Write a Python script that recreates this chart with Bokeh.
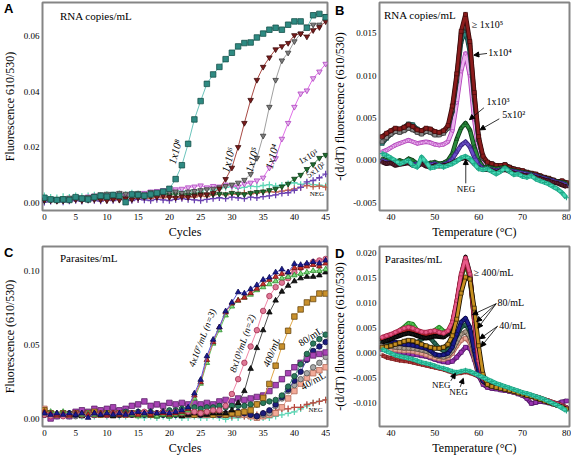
from bokeh.plotting import figure
from bokeh.layouts import column, row
from bokeh.models import (FixedTicker, PrintfTickFormatter, Label, Arrow, NormalHead,
                          ColumnDataSource, LinearAxis)
from bokeh.embed import file_html
from bokeh.resources import INLINE

SERIF = "Liberation Serif"

# ---------------- data ----------------
CYCLES = list(range(46))
TEMPS = list(range(38, 81))
CYCLE_TICKS = [0, 5, 10, 15, 20, 25, 30, 35, 40, 45]
TEMP_TICKS = [40, 50, 60, 70, 80]
A_Y_TICKS = [0.0, 0.02, 0.04, 0.06]
B_Y_TICKS = [-0.005, 0.0, 0.005, 0.01, 0.015]
C_Y_TICKS = [0.0, 0.05, 0.10]
D_Y_TICKS = [-0.01, -0.005, 0.0, 0.005, 0.01, 0.015, 0.02]

# Panel A: RNA copies/mL amplification
A_1E8 = [0.0018,0.0012,0.0010,0.0012,0.0010,0.0020,0.0015,0.0012,0.0020,0.0025,
         0.0022,0.0028,0.0025,0.0002,0.0030,0.0028,0.0025,0.0030,0.0035,0.0040,
         0.0050,0.0085,0.0135,0.0212,0.0300,0.0366,0.0428,0.0462,0.0489,0.0517,
         0.0540,0.0563,0.0575,0.0577,0.0595,0.0609,0.0623,0.0630,0.0623,0.0641,
         0.0653,0.0653,0.0630,0.0675,0.0680,0.0668]
A_1E6 = [0.0010,0.0008,0.0006,0.0008,0.0010,0.0012,0.0008,0.0010,0.0012,0.0010,
         0.0008,0.0012,0.0010,0.0015,0.0012,0.0018,0.0020,0.0022,0.0020,0.0025,
         0.0020,0.0018,0.0022,0.0020,0.0025,0.0028,0.0030,0.0035,0.0050,0.0085,
         0.0126,0.0200,0.0287,0.0370,0.0442,0.0489,0.0523,0.0552,0.0563,0.0575,
         0.0603,0.0609,0.0598,0.0621,0.0632,0.0653]
A_1E5 = [0.0015,0.0012,0.0010,0.0015,0.0018,0.0020,0.0018,0.0020,0.0025,0.0030,
         0.0032,0.0030,0.0035,0.0032,0.0030,0.0035,0.0030,0.0038,0.0035,0.0040,
         0.0038,0.0040,0.0035,0.0040,0.0042,0.0045,0.0048,0.0050,0.0055,0.0060,
         0.0065,0.0072,0.0082,0.0103,0.0161,0.0241,0.0345,0.0442,0.0512,0.0540,
         0.0581,0.0609,0.0634,0.0641,0.0641,0.0672]
A_1E4 = [0.0012,0.0010,0.0008,0.0012,0.0015,0.0012,0.0018,0.0022,0.0025,0.0020,
         0.0028,0.0025,0.0030,0.0028,0.0032,0.0030,0.0035,0.0040,0.0042,0.0045,
         0.0042,0.0048,0.0050,0.0055,0.0058,0.0062,0.0055,0.0060,0.0058,0.0065,
         0.0060,0.0058,0.0068,0.0072,0.0080,0.0090,0.0126,0.0160,0.0230,0.0287,
         0.0345,0.0393,0.0404,0.0448,0.0472,0.0500]
A_1E3 = [0.0008,0.0010,0.0012,0.0008,0.0010,0.0012,0.0015,0.0018,0.0015,0.0020,
         0.0018,0.0022,0.0020,0.0025,0.0022,0.0025,0.0022,0.0028,0.0025,0.0030,
         0.0028,0.0032,0.0030,0.0028,0.0030,0.0032,0.0028,0.0030,0.0032,0.0030,
         0.0035,0.0032,0.0030,0.0035,0.0038,0.0040,0.0045,0.0050,0.0058,0.0068,
         0.0086,0.0100,0.0121,0.0138,0.0161,0.0172]
A_5E2 = [0.0002,0.0005,0.0008,0.0003,0.0006,0.0008,0.0005,0.0010,0.0008,0.0006,
         0.0010,0.0008,0.0012,0.0010,0.0008,0.0012,0.0010,0.0008,0.0012,0.0010,
         0.0008,0.0012,0.0015,0.0012,0.0010,0.0008,0.0012,0.0015,0.0018,0.0015,
         0.0020,0.0018,0.0015,0.0020,0.0018,0.0022,0.0025,0.0028,0.0034,0.0036,
         0.0045,0.0055,0.0075,0.0080,0.0090,0.0103]
A_NEG_RED = [0.0015,0.0012,0.0010,0.0012,0.0010,0.0012,0.0015,0.0012,0.0010,0.0015,
             0.0012,0.0015,0.0012,0.0018,0.0015,0.0012,0.0018,0.0015,0.0020,0.0018,
             0.0020,0.0022,0.0018,0.0022,0.0020,0.0025,0.0022,0.0028,0.0030,0.0028,
             0.0032,0.0030,0.0035,0.0032,0.0035,0.0038,0.0040,0.0038,0.0042,0.0045,
             0.0050,0.0055,0.0062,0.0058,0.0060,0.0056]
A_NEG_CYAN = [0.0025,0.0020,0.0018,0.0022,0.0020,0.0025,0.0022,0.0025,0.0028,0.0025,
              0.0030,0.0028,0.0032,0.0030,0.0035,0.0032,0.0030,0.0035,0.0032,0.0038,
              0.0035,0.0040,0.0042,0.0038,0.0045,0.0042,0.0048,0.0045,0.0050,0.0055,
              0.0058,0.0052,0.0055,0.0060,0.0058,0.0062,0.0065,0.0060,0.0063,0.0068,
              0.0072,0.0066,0.0070,0.0065,0.0063,0.0060]

# Panel C: Parasites/mL amplification
C_BLUE = [0.004,0.003,0.004,0.003,0.004,0.003,0.004,0.001,0.004,0.003,
          0.004,0.003,0.004,0.003,0.004,0.005,0.004,0.005,0.004,0.005,
          0.004,0.005,0.006,0.008,0.0174,0.0266,0.0425,0.0536,0.062,0.0728,
          0.0787,0.0856,0.0848,0.0877,0.0904,0.094,0.0955,0.099,0.101,0.099,
          0.1047,0.104,0.105,0.106,0.105,0.107]
C_RED = [0.005,0.004,0.003,0.004,0.003,0.004,0.004,0.003,0.004,0.004,
         0.003,0.004,0.003,0.004,0.004,0.003,0.004,0.003,0.004,0.004,
         0.003,0.004,0.005,0.007,0.016,0.025,0.040,0.052,0.062,0.072,
         0.078,0.080,0.082,0.085,0.088,0.091,0.094,0.096,0.098,0.099,
         0.102,0.102,0.103,0.104,0.103,0.105]
C_GREEN = [0.004,0.005,0.004,0.005,0.004,0.004,0.003,0.004,0.003,0.004,
           0.004,0.003,0.003,0.004,0.003,0.002,0.003,0.003,0.002,0.003,
           0.002,0.003,0.004,0.006,0.014,0.024,0.038,0.051,0.060,0.070,
           0.076,0.080,0.082,0.084,0.087,0.089,0.091,0.093,0.095,0.096,
           0.097,0.098,0.099,0.100,0.100,0.101]
C_PINK = [0.003,0.002,0.003,0.002,0.003,0.004,0.003,0.004,0.003,0.004,
          0.003,0.004,0.004,0.003,0.004,0.004,0.005,0.004,0.004,0.005,
          0.004,0.005,0.004,0.005,0.005,0.004,0.005,0.006,0.006,0.009,
          0.017,0.027,0.038,0.049,0.060,0.073,0.083,0.089,0.092,0.095,
          0.099,0.102,0.104,0.106,0.107,0.108]
C_BLACK = [0.003,0.004,0.003,0.003,0.004,0.003,0.002,0.003,0.004,0.003,
           0.003,0.002,0.003,0.004,0.003,0.003,0.004,0.003,0.002,0.003,
           0.002,0.003,0.002,0.003,0.004,0.003,0.003,0.004,0.004,0.004,
           0.006,0.011,0.019,0.034,0.048,0.060,0.072,0.080,0.086,0.090,
           0.093,0.095,0.096,0.096,0.097,0.099]
C_GOLD = [0.006,0.004,0.003,0.004,0.003,0.004,0.003,0.004,0.005,0.003,
          0.004,0.003,0.004,0.003,0.004,0.003,0.004,0.003,0.003,0.004,
          0.003,0.004,0.003,0.004,0.003,0.004,0.004,0.003,0.004,0.003,
          0.004,0.004,0.005,0.006,0.010,0.0144,0.0238,0.0361,0.049,0.0596,
          0.0692,0.074,0.0787,0.081,0.0847,0.0847]
C_PURPLE = [0.004,0.0005,0.002,0.003,0.002,0.005,0.006,0.005,0.007,0.006,
            0.007,0.008,0.006,0.007,0.009,0.010,0.012,0.009,0.010,0.009,
            0.011,0.010,0.011,0.010,0.011,0.010,0.011,0.010,0.012,0.013,
            0.012,0.014,0.013,0.014,0.015,0.016,0.019,0.023,0.027,0.031,
            0.035,0.038,0.041,0.043,0.044,0.045]
C_DKGREEN = [0.003,0.004,0.003,0.004,0.003,0.004,0.003,0.004,0.003,0.004,
             0.004,0.003,0.004,0.005,0.004,0.005,0.004,0.005,0.004,0.005,
             0.006,0.006,0.007,0.007,0.008,0.007,0.008,0.008,0.009,0.008,
             0.009,0.009,0.009,0.010,0.010,0.011,0.012,0.013,0.016,0.022,
             0.029,0.037,0.044,0.051,0.054,0.057]
C_NAVY = [0.003,0.004,0.003,0.003,0.004,0.003,0.004,0.003,0.003,0.004,
          0.003,0.004,0.003,0.004,0.003,0.004,0.003,0.004,0.003,0.003,
          0.004,0.003,0.003,0.004,0.003,0.003,0.004,0.004,0.003,0.004,
          0.004,0.005,0.004,0.003,0.002,0.004,0.006,0.010,0.015,0.020,
          0.026,0.032,0.040,0.046,0.049,0.052]
C_GRAY = [0.003,0.004,0.003,0.004,0.003,0.002,0.003,0.004,0.003,0.004,
          0.003,0.004,0.003,0.003,0.004,0.003,0.004,0.003,0.004,0.003,
          0.004,0.003,0.004,0.003,0.004,0.003,0.004,0.003,0.004,0.003,
          0.004,0.003,0.004,0.003,0.002,0.003,0.004,0.009,0.014,0.019,
          0.023,0.027,0.031,0.035,0.038,0.042]
C_SALMON = [0.007,0.004,0.003,0.004,0.003,0.004,0.003,0.004,0.003,0.004,
            0.003,0.004,0.003,0.004,0.003,0.003,0.004,0.003,0.003,0.004,
            0.003,0.004,0.003,0.003,0.004,0.003,0.003,0.004,0.003,0.003,
            0.004,0.003,0.003,0.002,0.001,0.002,0.003,0.004,0.008,0.014,
            0.019,0.024,0.028,0.031,0.033,0.035]
C_NEG_RED = [0.004,0.003,0.004,0.003,0.003,0.004,0.003,0.004,0.003,0.003,
             0.004,0.003,0.004,0.003,0.003,0.004,0.003,0.003,0.004,0.003,
             0.003,0.004,0.003,0.003,0.004,0.003,0.003,0.004,0.003,0.003,
             0.002,0.003,0.002,0.003,0.003,0.004,0.005,0.006,0.007,0.007,
             0.008,0.008,0.010,0.011,0.012,0.013]
C_NEG_CYAN = [0.004,0.003,0.002,0.003,0.002,0.003,0.002,0.003,0.002,0.003,
              0.002,0.003,0.002,0.002,0.003,0.002,0.001,0.002,0.001,0.002,
              0.001,0.002,0.001,0.001,0.002,0.001,0.001,0.002,0.001,0.000,
              0.001,0.001,0.002,0.001,0.001,0.001,0.001,0.002,0.003,0.004,
              0.005,0.007,0.009,0.011,0.012,0.013]

# Panel B: RNA melt curves (38..80 C)
B_RED = [0.0028,0.0032,0.0035,0.0038,0.0037,0.0039,0.0042,0.0040,0.0036,0.0035,0.0038,0.0037,0.0034,0.0033,0.0035,0.0041,
         0.0064,0.0102,0.0152,0.0172,0.0140,0.0080,0.0028,0.0005,-0.0002,
         -0.0004,-0.0006,-0.0006,-0.0005,-0.0008,-0.0010,-0.0011,-0.0012,-0.0014,-0.0015,-0.0016,-0.0018,-0.0020,-0.0021,-0.0023,-0.0025,-0.0024,-0.0026]
B_GRAY = [0.0022,0.0027,0.0031,0.0034,0.0033,0.0035,0.0038,0.0036,0.0033,0.0031,0.0034,0.0033,0.0030,0.0030,0.0032,0.0038,
          0.0060,0.0098,0.0148,0.0166,0.0136,0.0076,0.0025,0.0003,-0.0003,
          -0.0005,-0.0007,-0.0007,-0.0006,-0.0009,-0.0011,-0.0012,-0.0013,-0.0015,-0.0016,-0.0017,-0.0019,-0.0021,-0.0022,-0.0024,-0.0026,-0.0025,-0.0027]
B_TEAL = [0.0020,0.0026,0.0031,0.0035,0.0036,0.0039,0.0043,0.0042,0.0037,0.0034,0.0036,0.0035,0.0033,0.0032,0.0034,0.0039,
          0.0058,0.0094,0.0140,0.0153,0.0128,0.0072,0.0024,0.0003,-0.0003,
          -0.0004,-0.0006,-0.0007,-0.0005,-0.0008,-0.0010,-0.0012,-0.0013,-0.0014,-0.0016,-0.0017,-0.0019,-0.0020,-0.0022,-0.0024,-0.0025,-0.0026,-0.0028]
B_PINK = [0.0010,0.0012,0.0015,0.0018,0.0020,0.0022,0.0024,0.0022,0.0020,0.0021,0.0022,0.0021,0.0019,0.0018,0.0019,0.0022,
          0.0035,0.0068,0.0105,0.0126,0.0100,0.0048,0.0012,-0.0002,-0.0006,
          -0.0005,-0.0007,-0.0008,-0.0006,-0.0009,-0.0011,-0.0012,-0.0013,-0.0015,-0.0016,-0.0018,-0.0019,-0.0021,-0.0022,-0.0024,-0.0026,-0.0025,-0.0027]
B_GREEN = [0.0002,0.0000,0.0002,-0.0002,0.0000,-0.0002,0.0002,0.0000,-0.0004,-0.0002,-0.0005,-0.0003,-0.0002,-0.0004,-0.0003,0.0000,
           0.0008,0.0025,0.0038,0.0044,0.0036,0.0016,0.0000,-0.0008,-0.0008,
           -0.0009,-0.0010,-0.0009,-0.0008,-0.0011,-0.0012,-0.0013,-0.0014,-0.0015,-0.0016,-0.0018,-0.0019,-0.0021,-0.0022,-0.0024,-0.0025,-0.0026,-0.0027]
B_PURPLE = [0.0000,-0.0002,-0.0003,-0.0002,-0.0004,-0.0003,-0.0002,-0.0005,-0.0004,-0.0002,-0.0006,-0.0005,-0.0004,-0.0006,-0.0005,-0.0003,
            0.0002,0.0010,0.0018,0.0022,0.0016,0.0004,-0.0005,-0.0010,-0.0010,
            -0.0011,-0.0012,-0.0011,-0.0010,-0.0012,-0.0013,-0.0014,-0.0015,-0.0016,-0.0017,-0.0018,-0.0020,-0.0021,-0.0023,-0.0024,-0.0026,-0.0027,-0.0029]
B_DARK = [-0.0002,-0.0004,-0.0003,-0.0006,-0.0005,-0.0004,-0.0003,-0.0006,-0.0007,-0.0004,-0.0007,-0.0008,-0.0006,-0.0007,-0.0006,-0.0005,
          -0.0003,0.0000,0.0002,0.0003,0.0001,-0.0004,-0.0009,-0.0011,-0.0011,
          -0.0012,-0.0014,-0.0012,-0.0011,-0.0013,-0.0015,-0.0016,-0.0017,-0.0018,-0.0018,-0.0020,-0.0021,-0.0023,-0.0024,-0.0026,-0.0027,-0.0029,-0.0031]
B_CYAN = [0.0008,0.0006,0.0003,0.0000,-0.0004,-0.0002,0.0000,-0.0006,-0.0008,0.0004,-0.0002,-0.0009,-0.0008,-0.0006,-0.0008,-0.0006,
          -0.0004,-0.0001,0.0003,0.0005,0.0002,-0.0004,-0.0010,-0.0011,-0.0010,
          -0.0013,-0.0016,-0.0013,-0.0009,-0.0013,-0.0017,-0.0016,-0.0019,-0.0020,-0.0018,-0.0022,-0.0024,-0.0026,-0.0028,-0.0031,-0.0034,-0.0038,-0.0044]

# Panel D: Parasite melt curves (38..80 C)
D_PINK = [0.0032,0.0035,0.0038,0.0042,0.0046,0.0050,0.0052,0.0050,0.0046,0.0043,0.0042,0.0044,0.0045,0.0042,0.0040,0.0045,
          0.0062,0.0105,0.0158,0.0190,0.0158,0.0065,-0.0015,-0.0050,-0.0060,
          -0.0064,-0.0066,-0.0068,-0.0070,-0.0072,-0.0074,-0.0076,-0.0079,-0.0081,-0.0084,-0.0086,-0.0089,-0.0092,-0.0095,-0.0098,-0.0101,-0.0104,-0.0108]
D_BLACK = [0.0022,0.0025,0.0028,0.0032,0.0035,0.0038,0.0040,0.0038,0.0035,0.0032,0.0030,0.0032,0.0034,0.0033,0.0032,0.0038,
           0.0060,0.0100,0.0155,0.0192,0.0160,0.0072,-0.0010,-0.0048,-0.0060,
           -0.0065,-0.0067,-0.0069,-0.0071,-0.0073,-0.0075,-0.0078,-0.0080,-0.0083,-0.0085,-0.0088,-0.0091,-0.0094,-0.0097,-0.0100,-0.0103,-0.0106,-0.0110]
D_RED = [0.0028,0.0031,0.0034,0.0038,0.0041,0.0044,0.0047,0.0045,0.0041,0.0038,0.0037,0.0039,0.0040,0.0038,0.0036,0.0041,
         0.0060,0.0102,0.0154,0.0185,0.0154,0.0068,-0.0012,-0.0049,-0.0060,
         -0.0064,-0.0066,-0.0068,-0.0070,-0.0073,-0.0075,-0.0077,-0.0080,-0.0082,-0.0085,-0.0087,-0.0090,-0.0093,-0.0096,-0.0099,-0.0102,-0.0105,-0.0109]
D_GREEN = [0.0030,0.0033,0.0036,0.0040,0.0046,0.0052,0.0060,0.0058,0.0046,0.0040,0.0038,0.0042,0.0046,0.0052,0.0044,0.0042,
           0.0058,0.0098,0.0150,0.0180,0.0150,0.0065,-0.0012,-0.0048,-0.0059,
           -0.0063,-0.0065,-0.0067,-0.0069,-0.0072,-0.0074,-0.0076,-0.0079,-0.0081,-0.0084,-0.0086,-0.0089,-0.0092,-0.0095,-0.0098,-0.0101,-0.0104,-0.0108]
D_GOLD = [0.0012,0.0013,0.0015,0.0018,0.0021,0.0024,0.0026,0.0025,0.0022,0.0018,0.0015,0.0012,0.0010,0.0010,0.0012,0.0018,
          0.0035,0.0068,0.0120,0.0152,0.0148,0.0090,0.0015,-0.0042,-0.0062,
          -0.0066,-0.0068,-0.0070,-0.0072,-0.0074,-0.0076,-0.0079,-0.0081,-0.0084,-0.0086,-0.0089,-0.0092,-0.0095,-0.0098,-0.0101,-0.0104,-0.0107,-0.0111]
D_NAVY = [0.0030,0.0028,0.0025,0.0022,0.0020,0.0018,0.0017,0.0016,0.0014,0.0012,0.0010,0.0005,-0.0002,-0.0004,-0.0003,0.0000,
          0.0012,0.0038,0.0062,0.0070,0.0052,0.0005,-0.0035,-0.0056,-0.0062,
          -0.0065,-0.0067,-0.0069,-0.0071,-0.0073,-0.0075,-0.0078,-0.0080,-0.0083,-0.0085,-0.0088,-0.0091,-0.0094,-0.0097,-0.0100,-0.0103,-0.0106,-0.0109]
D_TEAL = [0.0025,0.0024,0.0022,0.0021,0.0020,0.0020,0.0020,0.0021,0.0022,0.0028,0.0032,0.0030,0.0020,0.0010,0.0005,0.0008,
          0.0018,0.0035,0.0052,0.0057,0.0045,0.0008,-0.0030,-0.0054,-0.0061,
          -0.0064,-0.0066,-0.0068,-0.0070,-0.0072,-0.0075,-0.0077,-0.0080,-0.0082,-0.0085,-0.0087,-0.0090,-0.0093,-0.0096,-0.0099,-0.0102,-0.0105,-0.0108]
D_GRAY = [0.0015,0.0014,0.0013,0.0012,0.0011,0.0010,0.0010,0.0009,0.0008,0.0006,0.0004,0.0000,-0.0004,-0.0007,-0.0008,-0.0005,
          0.0005,0.0022,0.0038,0.0043,0.0032,-0.0002,-0.0036,-0.0055,-0.0062,
          -0.0065,-0.0067,-0.0069,-0.0071,-0.0073,-0.0076,-0.0078,-0.0081,-0.0083,-0.0086,-0.0088,-0.0091,-0.0094,-0.0097,-0.0100,-0.0103,-0.0106,-0.0109]
D_SALMON = [0.0010,0.0009,0.0008,0.0007,0.0006,0.0005,0.0005,0.0004,0.0002,0.0000,-0.0003,-0.0006,-0.0009,-0.0011,-0.0012,-0.0009,
            0.0000,0.0015,0.0026,0.0030,0.0022,-0.0008,-0.0040,-0.0057,-0.0063,
            -0.0066,-0.0068,-0.0070,-0.0072,-0.0074,-0.0077,-0.0079,-0.0082,-0.0084,-0.0087,-0.0089,-0.0092,-0.0095,-0.0098,-0.0101,-0.0104,-0.0107,-0.0110]
D_PURPLE = [0.0008,0.0006,0.0005,0.0003,0.0002,0.0001,0.0000,-0.0002,-0.0003,-0.0005,-0.0006,-0.0009,-0.0012,-0.0015,-0.0017,-0.0018,
            -0.0016,-0.0008,0.0002,0.0012,0.0010,-0.0012,-0.0045,-0.0062,-0.0068,
            -0.0070,-0.0071,-0.0073,-0.0074,-0.0076,-0.0078,-0.0081,-0.0084,-0.0090,-0.0100,-0.0098,-0.0096,-0.0097,-0.0099,-0.0101,-0.0100,-0.0097,-0.0095]
D_CYAN = [0.0008,0.0004,0.0000,-0.0004,-0.0006,-0.0008,-0.0010,-0.0012,-0.0015,-0.0018,-0.0020,-0.0022,-0.0025,-0.0028,-0.0030,-0.0033,
          -0.0036,-0.0038,-0.0036,-0.0034,-0.0036,-0.0040,-0.0044,-0.0048,-0.0052,
          -0.0056,-0.0060,-0.0063,-0.0066,-0.0069,-0.0072,-0.0075,-0.0078,-0.0080,-0.0083,-0.0086,-0.0089,-0.0092,-0.0096,-0.0100,-0.0104,-0.0109,-0.0115]
D_DKRED = [-0.0004,-0.0008,-0.0010,-0.0012,-0.0014,-0.0015,-0.0016,-0.0018,-0.0020,-0.0022,-0.0024,-0.0026,-0.0028,-0.0030,-0.0032,-0.0035,
           -0.0038,-0.0040,-0.0039,-0.0037,-0.0039,-0.0042,-0.0046,-0.0050,-0.0054,
           -0.0058,-0.0061,-0.0064,-0.0067,-0.0070,-0.0073,-0.0076,-0.0079,-0.0082,-0.0085,-0.0088,-0.0091,-0.0094,-0.0097,-0.0100,-0.0103,-0.0106,-0.0110]


# ---------------- helpers ----------------
def style_axis(ax):
    ax.major_tick_line_color = None
    ax.minor_tick_line_color = None
    ax.axis_line_color = None
    ax.major_tick_out = 0
    ax.major_tick_in = 0
    ax.major_label_text_font = SERIF
    ax.major_label_text_font_size = "9px"
    ax.major_label_text_color = "black"
    ax.major_label_standoff = 3
    ax.axis_label_text_font = SERIF
    ax.axis_label_text_font_size = "12px"
    ax.axis_label_text_font_style = "normal"
    ax.axis_label_text_color = "black"
    ax.axis_label_standoff = 2


def make_fig(w, h, xr, yr, left, right, top, bottom, xticks, yticks, yfmt, xlabel,
             ylabel, letter, letter_y, letter_standoff):
    p = figure(width=w, height=h, x_range=xr, y_range=yr, output_backend="svg",
               toolbar_location=None, min_border_left=left, min_border_right=right,
               min_border_top=top, min_border_bottom=bottom)
    p.grid.visible = False
    p.outline_line_color = "#858585"
    p.outline_line_width = 2
    p.background_fill_color = "white"
    p.border_fill_color = "white"
    xa = p.xaxis[0]
    ya = p.yaxis[0]
    style_axis(xa)
    style_axis(ya)
    xa.ticker = FixedTicker(ticks=xticks)
    ya.ticker = FixedTicker(ticks=yticks)
    ya.formatter = PrintfTickFormatter(format=yfmt)
    xa.axis_label = xlabel
    # outer left axis: carries the panel letter (as its only tick label) and the y title
    la = LinearAxis(ticker=FixedTicker(ticks=[letter_y]),
                    formatter=PrintfTickFormatter(format=letter))
    style_axis(la)
    la.major_label_text_font = "Liberation Sans"
    la.major_label_text_font_style = "bold"
    la.major_label_text_font_size = "13px"
    la.major_label_standoff = letter_standoff
    la.axis_label = ylabel
    la.axis_label_standoff = -(letter_standoff + 9)
    p.add_layout(la, "left")
    return p


def amp(p, ys, marker, fill, edge, line, size=5.5):
    src = ColumnDataSource(data=dict(x=CYCLES, y=ys))
    p.line("x", "y", source=src, line_color=line, line_width=1)
    if marker == "cross":
        p.scatter("x", "y", source=src, marker="cross", size=size + 1, line_color=edge, line_width=1.3)
    else:
        p.scatter("x", "y", source=src, marker=marker, size=size, fill_color=fill,
                  line_color=edge, line_width=0.8)


def melt(p, ys, marker, fill, edge, size=4):
    src = ColumnDataSource(data=dict(x=TEMPS, y=ys))
    p.line("x", "y", source=src, line_color=edge, line_width=4.5, line_join="round")
    p.line("x", "y", source=src, line_color=fill, line_width=2.8, line_join="round")
    if marker == "cross":
        p.scatter("x", "y", source=src, marker="cross", size=size + 1, line_color=edge, line_width=1.1)
    else:
        p.scatter("x", "y", source=src, marker=marker, size=size, fill_color=fill,
                  line_color=edge, line_width=0.6)


def note(p, x, y, text, size="10px", angle=0, style="normal", align="left", baseline="middle"):
    p.add_layout(Label(x=x, y=y, text=text, angle=angle, angle_units="deg",
                       text_font=SERIF, text_font_size=size, text_font_style=style,
                       text_align=align, text_baseline=baseline, text_color="black"))


def arrow(p, x0, y0, x1, y1):
    p.add_layout(Arrow(end=NormalHead(size=5, fill_color="black", line_color="black"),
                       x_start=x0, y_start=y0, x_end=x1, y_end=y1,
                       line_color="black", line_width=0.8))


# ---------------- panel A ----------------
pA = make_fig(330, 244, (-0.3, 45.3), (-0.0028, 0.0721), 35, 3, 2, 34,
              CYCLE_TICKS, A_Y_TICKS, "%.2f", "Cycles", "Fluorescence 610/530)",
              "A", 0.0698, 7)
amp(pA, A_NEG_CYAN, "cross", None, "#5fd6b6", "#7fe0c6")
amp(pA, A_NEG_RED, "cross", None, "#c0604c", "#d08070")
amp(pA, A_5E2, "cross", None, "#6a40b0", "#8a6ad0")
amp(pA, A_1E3, "inverted_triangle", "#1f6e30", "#0f3a18", "#3c8c4c")
amp(pA, A_1E4, "inverted_triangle", "#e2b0ea", "#b040c0", "#e070e8")
amp(pA, A_1E5, "inverted_triangle", "#7e7e7e", "#3c3c3c", "#a0a0a0")
amp(pA, A_1E6, "inverted_triangle", "#7a1c1c", "#3c0c0c", "#a84a44")
amp(pA, A_1E8, "square", "#2e8a82", "#15504a", "#6cc4bc")
note(pA, 2.5, 0.0672, "RNA copies/mL", size="11px")
note(pA, 20.9, 0.0184, "1x10⁸", size="11px", angle=75, style="italic", align="center")
note(pA, 29.4, 0.0155, "1x10⁶", size="11px", angle=75, style="italic", align="center")
note(pA, 33.2, 0.0155, "1x10⁵", size="11px", angle=75, style="italic", align="center")
note(pA, 36.4, 0.0167, "1x10⁴", size="11px", angle=75, style="italic", align="center")
note(pA, 42.2, 0.0166, "1x10³", size="9px", angle=30, align="center")
note(pA, 43.4, 0.0118, "5x10²", size="9px", angle=35, align="center")
note(pA, 43.6, 0.0031, "NEG", size="7px", align="center")

# ---------------- panel B ----------------
pB = make_fig(241, 244, (37.4, 80.7), (-0.0059, 0.0186), 42, 2, 2, 34,
              TEMP_TICKS, B_Y_TICKS, "%.3f", "Temperature (°C)",
              "-(d/dT) fluorescence (610/530)", "B", 0.0177, 6)
melt(pB, B_PINK, "inverted_triangle", "#eab0ee", "#b040b8")
melt(pB, B_TEAL, "square", "#2e8a82", "#12423e")
melt(pB, B_GRAY, "square", "#8a8a8a", "#2a2a2a")
melt(pB, B_RED, "square", "#8a1c1c", "#3a0a0a")
melt(pB, B_GREEN, "triangle", "#2a8a3c", "#0c3a16")
melt(pB, B_PURPLE, "triangle", "#6a4cc8", "#34207a")
melt(pB, B_DARK, "triangle", "#5a1e2e", "#2a0a14")
melt(pB, B_CYAN, "cross", "#45d8b4", "#20a888")
note(pB, 38.4, 0.01716, "RNA copies/mL", size="11px")
note(pB, 58.4, 0.0160, "≥ 1x10⁵", size="10px")
note(pB, 62.2, 0.0127, "1x10⁴", size="10px")
note(pB, 61.8, 0.0069, "1x10³", size="10px")
note(pB, 65.4, 0.0054, "5x10²", size="10px")
note(pB, 57.1, -0.0034, "NEG", size="9px", align="center")
arrow(pB, 61.9, 0.0126, 58.9, 0.0124)
arrow(pB, 61.2, 0.0062, 57.9, 0.0048)
arrow(pB, 64.7, 0.0049, 60.3, 0.0036)
arrow(pB, 57.06, -0.0027, 57.06, 0.0001)

# ---------------- panel C ----------------
pC = make_fig(330, 213, (-0.3, 45.3), (-0.0049, 0.1164), 35, 3, 2, 30,
              CYCLE_TICKS, C_Y_TICKS, "%.2f", "Cycles", "Fluorescence (610/530)",
              "C", 0.1130, 7)
amp(pC, C_NEG_CYAN, "cross", None, "#5fd6b6", "#7fe0c6")
amp(pC, C_NEG_RED, "cross", None, "#b84a40", "#d07068")
amp(pC, C_SALMON, "square", "#f2aa98", "#b06a58", "#f0a090")
amp(pC, C_GRAY, "circle", "#a8a8a8", "#505050", "#a0a0a0")
amp(pC, C_NAVY, "circle", "#1c1c7c", "#0c0c40", "#5050b0")
amp(pC, C_PURPLE, "square", "#a844b4", "#5c1e68", "#b060c0")
amp(pC, C_DKGREEN, "circle", "#2a7a5c", "#124030", "#4a9a7c")
amp(pC, C_GOLD, "square", "#c8902c", "#6a4810", "#e0a848")
amp(pC, C_BLACK, "triangle", "#181818", "#000000", "#505050")
amp(pC, C_PINK, "circle", "#e07896", "#a03050", "#f088a8")
amp(pC, C_GREEN, "triangle", "#80dc80", "#2a8a2a", "#60c860")
amp(pC, C_RED, "triangle", "#c8302c", "#701010", "#e06060")
amp(pC, C_BLUE, "triangle", "#1a1a90", "#0a0a50", "#5858d8")
note(pC, 2.5, 0.1086, "Parasites/mL", size="11px")
note(pC, 25.3, 0.0549, "4x10⁷/mL (n=3)", size="9.5px", angle=69, style="italic", align="center")
note(pC, 31.7, 0.0511, "8x10³/mL (n=2)", size="9.5px", angle=71, style="italic", align="center")
note(pC, 36.3, 0.0451, "400/mL", size="10px", angle=68, style="italic", align="center")
note(pC, 42.6, 0.0557, "80/mL", size="10px", angle=33, align="center")
note(pC, 43.0, 0.0259, "40/mL", size="10px", angle=30, align="center")
note(pC, 43.4, 0.0059, "NEG", size="7px", align="center")

# ---------------- panel D ----------------
pD = make_fig(241, 213, (37.4, 80.7), (-0.0146, 0.0213), 42, 2, 2, 30,
              TEMP_TICKS, D_Y_TICKS, "%.3f", "Temperature (°C)",
              "-(d/dT) fluorescence (610/530)", "D", 0.0205, 6)
melt(pD, D_DKRED, "cross", "#b84040", "#802020")
melt(pD, D_PURPLE, "square", "#9a34b0", "#4a1060")
melt(pD, D_SALMON, "square", "#eaa898", "#a86050")
melt(pD, D_GRAY, "circle", "#a89c8c", "#5a4a40")
melt(pD, D_TEAL, "circle", "#2a6a58", "#10342a")
melt(pD, D_NAVY, "circle", "#1c1c8c", "#0a0a40")
melt(pD, D_GREEN, "triangle", "#5ccc5c", "#1a7a1a")
melt(pD, D_RED, "triangle", "#c82828", "#6a0c0c")
melt(pD, D_BLACK, "triangle", "#181818", "#000000")
melt(pD, D_PINK, "circle", "#e85a8a", "#a02040")
melt(pD, D_GOLD, "square", "#c89020", "#1a1000")
melt(pD, D_CYAN, "cross", "#45d8b8", "#20a888")
note(pD, 38.6, 0.01875, "Parasites/mL", size="11px")
note(pD, 58.85, 0.0162, "≥ 400/mL", size="10px")
note(pD, 64.3, 0.0101, "80/mL", size="10px")
note(pD, 64.7, 0.0055, "40/mL", size="10px")
note(pD, 51.5, -0.0064, "NEG", size="9px", align="center")
note(pD, 55.4, -0.0077, "NEG", size="9px", align="center")
arrow(pD, 64.0, 0.0099, 58.6, 0.0077)
arrow(pD, 64.0, 0.0099, 59.55, 0.0063)
arrow(pD, 64.0, 0.0099, 59.8, 0.0050)
arrow(pD, 64.3, 0.0054, 60.25, 0.0029)
arrow(pD, 64.3, 0.0054, 60.55, 0.0013)
arrow(pD, 53.65, -0.0055, 54.7, -0.0040)
arrow(pD, 55.8, -0.0067, 56.5, -0.0050)

layout = column(row(pA, pB), row(pC, pD))
open("out.html", "w").write(file_html(layout, INLINE))
